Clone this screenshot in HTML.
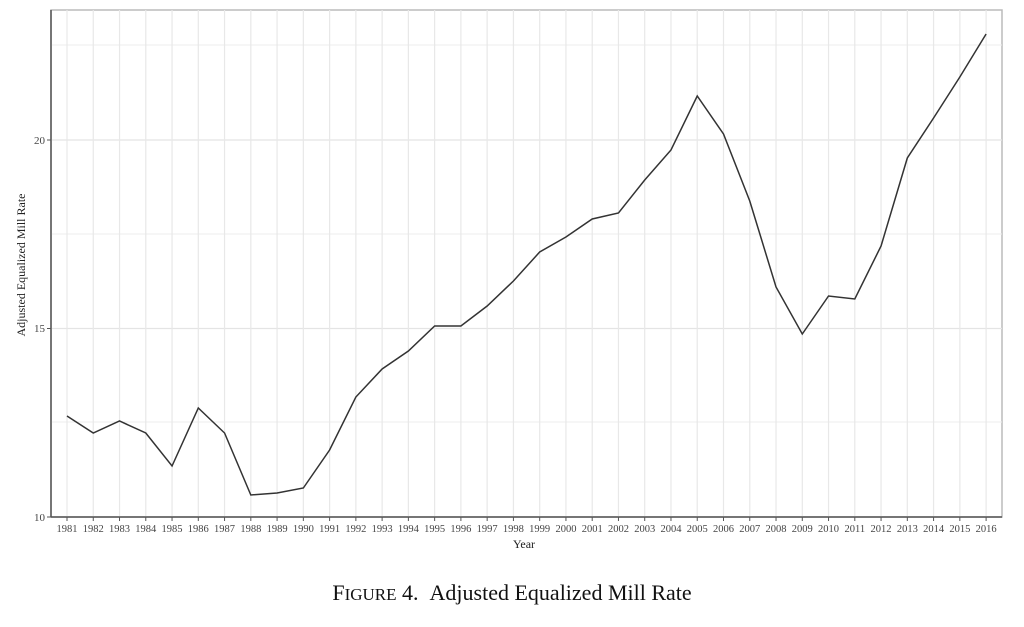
<!DOCTYPE html>
<html><head><style>body{margin:0;background:#fff;width:1024px;height:622px;overflow:hidden}</style></head><body>
<svg width="1024" height="622" xmlns="http://www.w3.org/2000/svg" font-family="Liberation Serif, serif">
<rect x="51" y="10" width="951" height="507" fill="#fff" stroke="#bbb" stroke-width="1.5"/>
<g stroke="#ececec" stroke-width="1">
<line x1="51" x2="1002" y1="45" y2="45"/><line x1="51" x2="1002" y1="234" y2="234"/><line x1="51" x2="1002" y1="422" y2="422"/>
</g>
<g stroke="#e4e4e4" stroke-width="1.3">
<line x1="51" x2="1002" y1="140" y2="140"/><line x1="51" x2="1002" y1="328.5" y2="328.5"/>
</g>
<g id="vg" stroke="#e8e8e8" stroke-width="1.2"></g>
<line x1="51" y1="10" x2="51" y2="517" stroke="#555" stroke-width="1.5"/>
<line x1="51" y1="517" x2="1002" y2="517" stroke="#555" stroke-width="1.5"/>
<g font-size="11" fill="#444" text-anchor="end">
<text x="45" y="144">20</text><text x="45" y="332">15</text><text x="45" y="521">10</text>
</g>
<g stroke="#555"><line x1="47" x2="51" y1="140" y2="140"/><line x1="47" x2="51" y1="328.5" y2="328.5"/><line x1="47" x2="51" y1="517" y2="517"/></g>
<g id="xt" font-size="10.5" fill="#444" text-anchor="middle"></g>
<text x="524" y="548" font-size="12" text-anchor="middle" fill="#222">Year</text>
<text transform="translate(25,265) rotate(-90)" font-size="12" text-anchor="middle" fill="#222">Adjusted Equalized Mill Rate</text>
<polyline id="ln" fill="none" stroke="#333" stroke-width="1.5"/>
<text x="512" y="600" font-size="22" text-anchor="middle" fill="#111">F<tspan font-size="17">IGURE</tspan> 4.&#160;&#160;Adjusted Equalized Mill Rate</text>
</svg>
<script>
var ys=[416,433,421,433,466,408,433,495,493,488,450,397,369,351,326,326,306,281,252,237,219,213,180,150,96,134,201,287,334,296,299,246,158,118,77,34];
var ns="http://www.w3.org/2000/svg",pts=[],vg=document.getElementById('vg'),xt=document.getElementById('xt'),ax=document.querySelector('svg');
for(var i=0;i<36;i++){var x=67+i*26.26;pts.push(x+","+ys[i]);
var l=document.createElementNS(ns,'line');l.setAttribute('x1',x);l.setAttribute('x2',x);l.setAttribute('y1',10);l.setAttribute('y2',517);vg.appendChild(l);
var t=document.createElementNS(ns,'line');t.setAttribute('x1',x);t.setAttribute('x2',x);t.setAttribute('y1',517);t.setAttribute('y2',521);t.setAttribute('stroke','#555');ax.appendChild(t);
var tx=document.createElementNS(ns,'text');tx.setAttribute('x',x);tx.setAttribute('y',532);tx.textContent=1981+i;xt.appendChild(tx);}
document.getElementById('ln').setAttribute('points',pts.join(' '));
</script>
</body></html>
